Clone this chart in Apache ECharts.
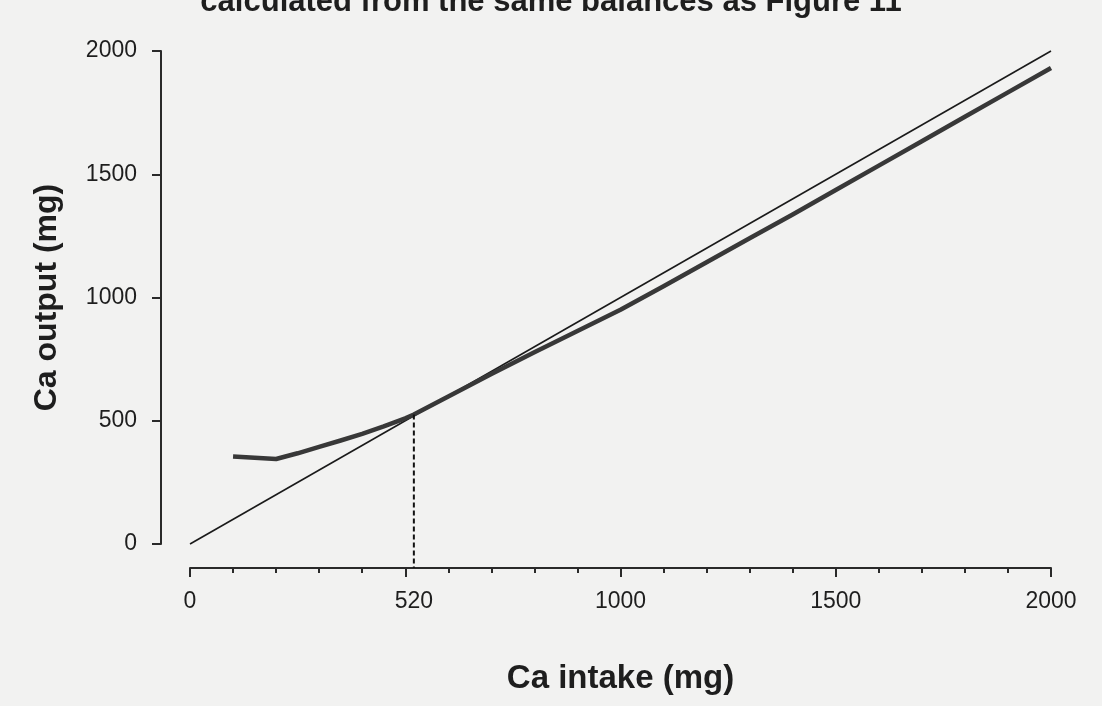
<!DOCTYPE html>
<html>
<head>
  <meta charset="UTF-8">
  <title>Ca balance</title>
  <style>
    * { padding: 0; margin: 0; }
    html, body { width: 100%; height: 100%; background: #f2f2f1; }
    #chart { width: 1102px; height: 706px; }
  </style>
  <script src="https://cdn.jsdelivr.net/npm/echarts@6/dist/echarts.min.js"></script>
</head>
<body>
  <div id="chart"></div>
  <script>
    // intake (mg) vs output (mg)
    var intake = [100, 200, 250, 300, 350, 400, 450, 500, 520, 600, 700, 800, 900, 1000,
                  1100, 1200, 1300, 1400, 1500, 1600, 1700, 1800, 1900, 2000];
    var output = [355, 345, 368, 394, 420, 447, 477, 510, 525, 598, 690, 778, 864, 950,
                  1046, 1143, 1240, 1337, 1436, 1535, 1634, 1733, 1832, 1931];
    var identityX = [0, 2000];
    var identityY = [0, 2000];
    var crossX = 520;
    var crossY = 525;
    var xLabels = [0, 520, 1000, 1500, 2000];

    var font = 'Liberation Sans, Arial, Helvetica, sans-serif';
    var ink = '#1e1e1e';
    var plain = function (v) { return String(v); };

    var chart = echarts.init(document.getElementById('chart'));

    var option = {
      backgroundColor: '#f2f2f1',
      animation: false,
      title: {
        text: 'calculated from the same balances as Figure 11',
        left: 'center',
        top: -18,
        textStyle: { fontFamily: font, fontSize: 31, fontWeight: 'bold', color: ink }
      },
      grid: { left: 190, right: 51, top: 51, bottom: 162 },
      xAxis: {
        type: 'value',
        min: 0,
        max: 2000,
        interval: 500,
        offset: 24,
        name: 'Ca intake (mg)',
        nameLocation: 'middle',
        nameGap: 94,
        nameTextStyle: { fontFamily: font, fontSize: 33, fontWeight: 'bold', color: ink },
        axisLine: { show: true, onZero: false, lineStyle: { color: '#2a2a2a', width: 2 } },
        axisTick: { show: true, length: 9, lineStyle: { color: '#2a2a2a', width: 2 } },
        minorTick: { show: true, splitNumber: 5, length: 5, lineStyle: { color: '#2a2a2a', width: 2 } },
        axisLabel: {
          customValues: xLabels,
          formatter: plain,
          margin: 22,
          fontFamily: font, fontSize: 23, color: ink
        },
        splitLine: { show: false }
      },
      yAxis: {
        type: 'value',
        min: 0,
        max: 2000,
        interval: 500,
        offset: 29,
        name: 'Ca output (mg)',
        nameLocation: 'middle',
        nameGap: 98,
        nameTextStyle: { fontFamily: font, fontSize: 32, fontWeight: 'bold', color: ink },
        axisLine: { show: true, onZero: false, lineStyle: { color: '#2a2a2a', width: 2 } },
        axisTick: { show: true, length: 9, lineStyle: { color: '#2a2a2a', width: 2 } },
        axisLabel: { formatter: plain, margin: 24, fontFamily: font, fontSize: 23, color: ink },
        splitLine: { show: false }
      },
      series: [
        {
          name: 'identity',
          type: 'line',
          symbol: 'none',
          clip: false,
          data: identityX.map(function (x, i) { return [x, identityY[i]]; }),
          lineStyle: { color: '#1a1a1a', width: 1.6 }
        },
        {
          name: 'output',
          type: 'line',
          symbol: 'none',
          clip: false,
          data: intake.map(function (x, i) { return [x, output[i]]; }),
          lineStyle: { color: '#383838', width: 4.5, cap: 'butt', join: 'round' }
        },
        {
          // dotted drop line down to the offset x axis (24px below the grid, ~97 mg)
          name: 'drop',
          type: 'line',
          symbol: 'none',
          clip: false,
          data: [[crossX, crossY], [crossX, -97]],
          lineStyle: { color: '#111', width: 2, type: [5, 3] }
        }
      ]
    };

    chart.setOption(option);
  </script>
</body>
</html>
